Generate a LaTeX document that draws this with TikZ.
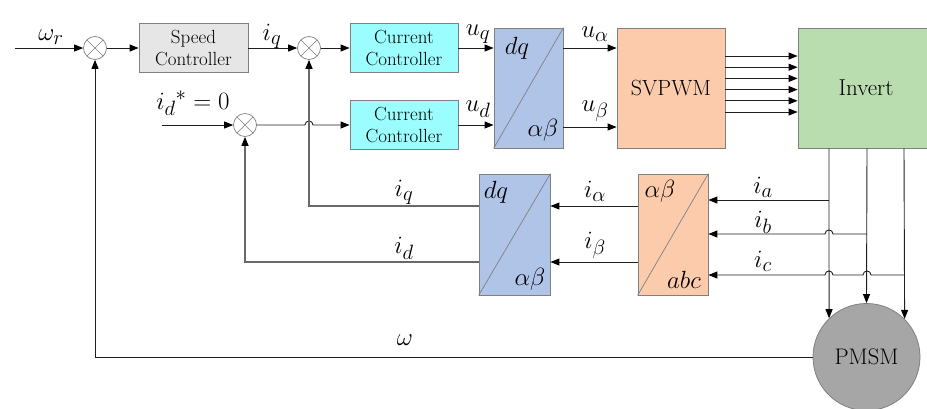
\documentclass[tikz,border=0pt]{standalone}
\usetikzlibrary{arrows.meta}
\definecolor{scfill}{RGB}{230,230,230}
\definecolor{ccfill}{RGB}{155,253,253}
\definecolor{tfill}{RGB}{176,196,232}
\definecolor{pfill}{RGB}{251,203,172}
\definecolor{gfill}{RGB}{185,221,175}
\definecolor{mfill}{RGB}{166,166,166}
\definecolor{edgec}{RGB}{128,128,128}
\definecolor{wirec}{RGB}{30,30,30}
\definecolor{fbc}{RGB}{105,105,105}
\newcommand\mlab[1]{{\fontsize{28}{28}\selectfont$#1$}}
\begin{document}
\begin{tikzpicture}[x=1pt,y=-1pt,
  box/.style={draw=edgec,line width=0.8pt,inner sep=0pt,align=center,font=\fontsize{19}{22}\selectfont},
  sumc/.style={circle,draw=edgec,fill=white,line width=0.7pt,minimum size=23pt,inner sep=0pt,
    path picture={\draw[edgec,line width=0.6pt] (path picture bounding box.north west) -- (path picture bounding box.south east)
      (path picture bounding box.north east) -- (path picture bounding box.south west);}},
  wire/.style={draw=wirec,line width=0.9pt},
  arr/.style={wire,-{Triangle[length=9pt,width=7pt,color=black]}},
  fb/.style={draw=fbc,line width=1.1pt,-{Triangle[length=9pt,width=7pt,color=black]}},
  lbl/.style={inner sep=0pt}]
\useasboundingbox (0,0) rectangle (927,408);
% blocks
\node[box,fill=scfill,minimum width=109pt,minimum height=49pt] (sc) at (193.5,48) {Speed\\Controller};
\node[box,fill=ccfill,minimum width=108pt,minimum height=49pt] (cc1) at (404,48) {Current\\Controller};
\node[box,fill=ccfill,minimum width=108pt,minimum height=49pt] (cc2) at (404,125) {Current\\Controller};
\node[box,fill=tfill,minimum width=69pt,minimum height=120pt] (t1) at (528.5,88) {};
\node[box,fill=pfill,minimum width=108pt,minimum height=120pt,font=\fontsize{22}{22}\selectfont] (svp) at (671,88) {SVPWM};
\node[box,fill=gfill,minimum width=136pt,minimum height=120pt,font=\fontsize{23}{23}\selectfont] (inv) at (866,88) {Invert};
\node[box,fill=tfill,minimum width=71pt,minimum height=121pt] (t2) at (514.5,234.5) {};
\node[box,fill=pfill,minimum width=70pt,minimum height=121pt] (t3) at (673,234.5) {};
\node[circle,draw=edgec,fill=mfill,line width=0.8pt,minimum size=107pt,inner sep=0pt,font=\fontsize{22.5}{22.5}\selectfont] (pmsm) at (866.5,357) {PMSM};
\draw[edgec,line width=0.7pt] (t1.south west) -- (t1.north east);
\draw[edgec,line width=0.7pt] (t2.south west) -- (t2.north east);
\draw[edgec,line width=0.7pt] (t3.south west) -- (t3.north east);
\node[lbl] (t1a) at (517,48) {\mlab{dq}};
\node[lbl] (t1b) at (543,130) {\mlab{\alpha\beta}};
\node[lbl] (t2a) at (496,192) {\mlab{dq}};
\node[lbl] (t2b) at (530,279) {\mlab{\alpha\beta}};
\node[lbl] (t3a) at (660,191) {\mlab{\alpha\beta}};
\node[lbl] (t3b) at (684,280) {\mlab{abc}};
% summing junctions
\node[sumc] (s1) at (95,48) {};
\node[sumc] (s2) at (309,48) {};
\node[sumc] (s3) at (245,125) {};
% coordinates
\coordinate (in1) at (15,48);
\coordinate (in2) at (162,125);
\coordinate (xa) at (829,0);
\coordinate (xb) at (867,0);
\coordinate (xc) at (904,0);
\coordinate (ya) at (0,200);
\coordinate (yb) at (0,234);
\coordinate (yc) at (0,275);
\coordinate (yal) at (0,206);
\coordinate (ybe) at (0,262);
% forward path
\draw[arr] (in1) -- (s1.west);
\draw[arr] (s1.east) -- (sc.west);
\draw[arr] (sc.east) -- (s2.west);
\draw[arr] (s2.east) -- (cc1.west);
\draw[arr] (in2) -- (s3.west);
\draw[arr] (s3.east) -- (305,125) .. controls (305,119.7) and (313,119.7) .. (313,125) -- (cc2.west);
\draw[arr] (cc1.east) -- (t1.west |- cc1.east);
\draw[arr] (cc2.east) -- (t1.west |- cc2.east);
\draw[arr] (t1.east |- cc1.east) -- (svp.west |- cc1.east);
\draw[arr] (t1.east |- 0,127) -- (svp.west |- 0,127);
\foreach \k in {0,...,5} {
  \coordinate (p\k) at (0,{56+11.2*\k});
  \draw[arr] (svp.east |- p\k) -- (inv.west |- p\k);
}
% to motor
\draw[arr] (inv.south -| xa) -- (pmsm.134.5);
\draw[arr] (inv.south -| xb) -- (pmsm.north);
\draw[arr] (inv.south -| xc) -- (pmsm.45.5);
% current measurement
\draw[arr] (xa |- ya) -- (t3.east |- ya);
\draw[arr] (xb |- yb) -- (833,234) .. controls (833,228.7) and (825,228.7) .. (825,234) -- (t3.east |- yb);
\draw[arr] (xc |- yc) -- (871,275) .. controls (871,269.7) and (863,269.7) .. (863,275) -- (833,275) .. controls (833,269.7) and (825,269.7) .. (825,275) -- (t3.east |- yc);
\draw[arr] (t3.west |- yal) -- (t2.east |- yal);
\draw[arr] (t3.west |- ybe) -- (t2.east |- ybe);
% feedback
\draw[fb] (t2.west |- yal) -- (yal -| s2) -- (s2.south);
\draw[fb] (t2.west |- ybe) -- (ybe -| s3) -- (s3.south);
\draw[arr] (pmsm.west) -- (pmsm.west -| s1) -- (s1.south);
% labels
\node[lbl] (lwr) at (51,37) {\mlab{\omega_r}};
\node[lbl] (liq1) at (272,36) {\mlab{i_q}};
\node[lbl] (luq) at (478,34) {\mlab{u_q}};
\node[lbl] (lud) at (478,109) {\mlab{u_d}};
\node[lbl] (lua) at (595,34) {\mlab{u_\alpha}};
\node[lbl] (lub) at (595,111) {\mlab{u_\beta}};
\node[lbl] (lid0) at (193,103) {\mlab{{i_d}^* = 0}};
\node[lbl] (liq2) at (404,192) {\mlab{i_q}};
\node[lbl] (lid2) at (404,248) {\mlab{i_d}};
\node[lbl] (lial) at (595,191) {\mlab{i_\alpha}};
\node[lbl] (libe) at (595,245) {\mlab{i_\beta}};
\node[lbl] (lia) at (763,187) {\mlab{i_a}};
\node[lbl] (lib) at (763,222) {\mlab{i_b}};
\node[lbl] (lic) at (763,261) {\mlab{i_c}};
\node[lbl] (lw) at (405,340) {\mlab{\omega}};
\end{tikzpicture}
\end{document}
